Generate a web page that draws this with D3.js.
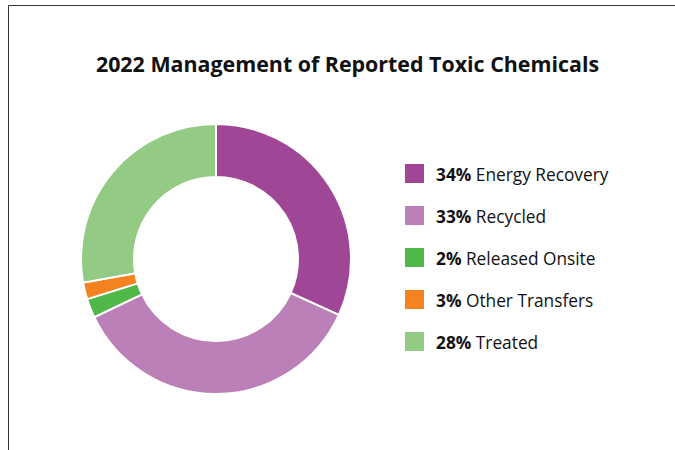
<!DOCTYPE html>
<html><head><meta charset="utf-8">
<script src="https://cdn.jsdelivr.net/npm/d3@7"></script>
<style>body{margin:0;background:#fff}svg{display:block}</style>
</head><body>
<svg id="c" width="675" height="450"></svg>
<script>
const title = "2022 Management of Reported Toxic Chemicals";
const categories = ["Energy Recovery","Recycled","Released Onsite","Other Transfers","Treated"];
const sliceValues = [31.8, 36.1, 2.3, 2.0, 27.8];
const legendPercents = ["34%","33%","2%","3%","28%"];
const colors = ["#a04697","#bc80b8","#50b848","#f58220","#93ca84"];

const svg = d3.select("#c");
// frame
svg.append("path").attr("d","M8.5,450 L8.5,5.5 L675,5.5").attr("fill","none").attr("stroke","#333").attr("stroke-width",1);

svg.append("text").attr("x",347.5).attr("y",72).attr("text-anchor","middle")
  .attr("font-family","'Open Sans', sans-serif").attr("font-weight","bold").attr("font-size",21.4)
  .attr("fill","#111").text(title);

const data = categories.map((c,i)=>({name:c,value:sliceValues[i],color:colors[i],pct:legendPercents[i]}));
const pie = d3.pie().value(d=>d.value).sort(null);
const arc = d3.arc().innerRadius(82).outerRadius(135);
const g = svg.append("g").attr("transform","translate(216,259)");
g.selectAll("path").data(pie(data)).join("path")
  .attr("d",arc).attr("fill",d=>d.data.color).attr("stroke","#fff").attr("stroke-width",2);

const y = d3.scaleBand().domain(categories).range([164,374]).paddingInner(0);
const lg = svg.append("g");
const rows = lg.selectAll("g").data(data).join("g")
  .attr("transform",d=>`translate(405,${y(d.name)})`);
rows.append("rect").attr("width",19).attr("height",19).attr("fill",d=>d.color);
const t = rows.append("text").attr("x",31).attr("y",17)
  .attr("font-family","'Open Sans', sans-serif").attr("font-size",17.3).attr("fill","#111");
t.append("tspan").attr("font-weight","bold").text(d=>d.pct);
t.append("tspan").text(d=>" "+d.name);
</script>
</body></html>
